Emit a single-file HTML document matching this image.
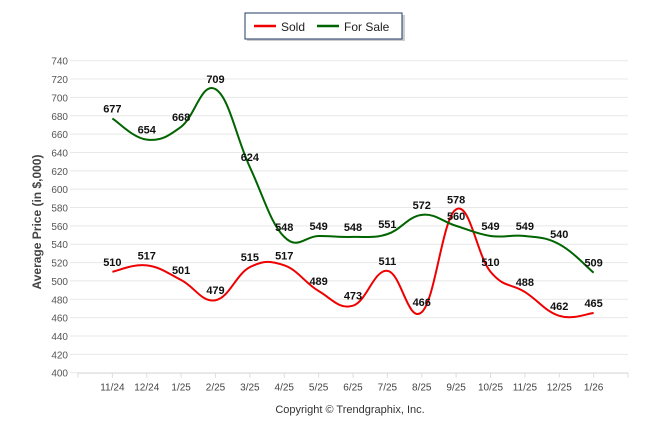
<!DOCTYPE html>
<html><head><meta charset="utf-8"><style>
body{margin:0;background:#fff;width:646px;height:434px;overflow:hidden;font-family:"Liberation Sans",Arial,sans-serif}
</style></head><body>
<svg width="646" height="434" xmlns="http://www.w3.org/2000/svg">
<g id="grid"></g>
<g id="axes"></g>
<g id="series"></g>
<g id="labels"></g>
<g>
<rect x="247" y="15" width="158" height="26" fill="#999" opacity="0.5"/>
<rect x="245" y="13" width="157" height="26" fill="#fff" stroke="#1f3864" stroke-width="1"/>
<line x1="254" y1="26" x2="276" y2="26" stroke="#ee0000" stroke-width="2.5"/>
<text x="281" y="31" font-size="12" fill="#222">Sold</text>
<line x1="317" y1="26" x2="339" y2="26" stroke="#006400" stroke-width="2.5"/>
<text x="344" y="31" font-size="12" fill="#222">For Sale</text>
</g>
<text transform="translate(41,222) rotate(-90)" text-anchor="middle" font-size="12" font-weight="bold" fill="#444">Average Price (in $,000)</text>
<text x="350" y="413" text-anchor="middle" font-size="11" fill="#333">Copyright © Trendgraphix, Inc.</text>
</svg>
<script>
const categories=["11/24","12/24","1/25","2/25","3/25","4/25","5/25","6/25","7/25","8/25","9/25","10/25","11/25","12/25","1/26"];
const sold=[510,517,501,479,515,517,489,473,511,466,578,510,488,462,465];
const forSale=[677,654,668,709,624,548,549,548,551,572,560,549,549,540,509];
const yTicks=[400,420,440,460,480,500,520,540,560,580,600,620,640,660,680,700,720,740];
const NS="http://www.w3.org/2000/svg";
const x=i=>78+(i+1)*34.375;
const y=v=>372.7-(v-400)*(312/340);
function mk(tag,attrs,parent,txt){const e=document.createElementNS(NS,tag);for(const k in attrs)e.setAttribute(k,attrs[k]);if(txt!==undefined)e.textContent=txt;document.getElementById(parent).appendChild(e);return e;}
yTicks.forEach(v=>{
 const l=mk('line',{x1:70,x2:628,y1:y(v),y2:y(v),stroke:'#e8e8e8','stroke-width':1},'grid');
 
 
 const t=mk('text',{x:68,y:y(v)+4,'text-anchor':'end','font-size':10,fill:'#555'},'axes',v);
 
 
});
mk('line',{x1:78,x2:628,y1:y(400)+0.5,y2:y(400)+0.5,stroke:'#ddd'},'axes');
for(let i=-1;i<=15;i++){mk('line',{x1:x(i),x2:x(i),y1:y(400),y2:y(400)+5,stroke:'#ddd'},'axes');}
categories.forEach((c,i)=>{
 const t=mk('text',{x:x(i),y:y(400)+18,'text-anchor':'middle','font-size':10,fill:'#444'},'axes',c);
 
 
});
function smooth(vals){
 const p=vals.map((v,i)=>[x(i),y(v)]);let d=`M${p[0][0]},${p[0][1]}`;
 for(let i=0;i<p.length-1;i++){
  const p0=p[i-1]||p[i],p1=p[i],p2=p[i+1],p3=p[i+2]||p[i+1];const t=0.2;
  const c1=[p1[0]+(p2[0]-p0[0])*t,p1[1]+(p2[1]-p0[1])*t];
  const c2=[p2[0]-(p3[0]-p1[0])*t,p2[1]-(p3[1]-p1[1])*t];
  d+=` C${c1[0]},${c1[1]} ${c2[0]},${c2[1]} ${p2[0]},${p2[1]}`;
 }
 return d;
}
const s1=mk('path',{d:smooth(sold),fill:'none',stroke:'#ee0000','stroke-width':2},'series');


const s2=mk('path',{d:smooth(forSale),fill:'none',stroke:'#006400','stroke-width':2},'series');


[[sold,'sold-value-label'],[forSale,'for-sale-value-label']].forEach(([arr,n])=>{
 arr.forEach((v,i)=>{
  const t=mk('text',{x:x(i),y:y(v)-6,'text-anchor':'middle','font-size':11,'font-weight':'bold',fill:'#111'},'labels',v);
  
  
 });
});
</script>
</body></html>
